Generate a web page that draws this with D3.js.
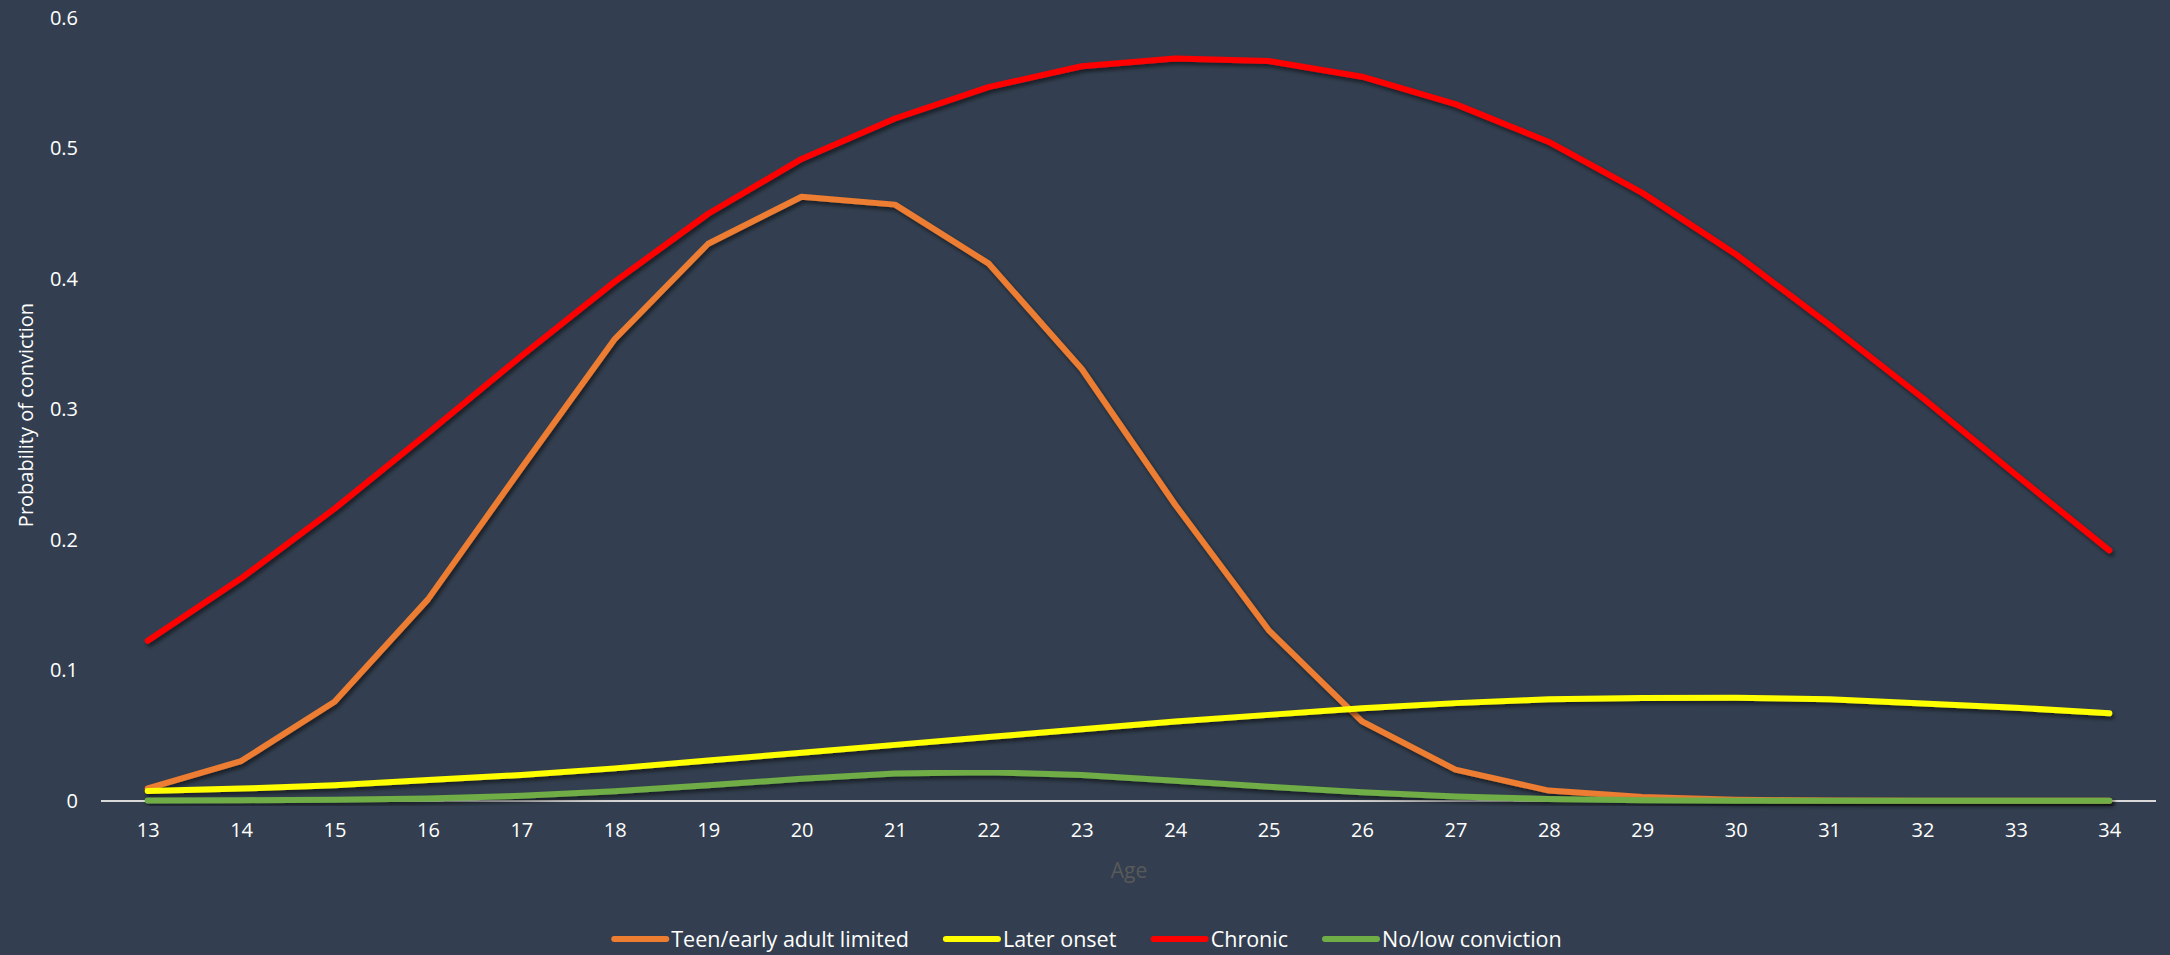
<!DOCTYPE html>
<html>
<head>
<meta charset="utf-8">
<script src="https://cdn.jsdelivr.net/npm/d3@7"></script>
<style>
  html, body { margin: 0; padding: 0; background: #333F50; }
  svg { display: block; }
  text { font-family: "Open Sans", "Noto Sans", sans-serif; }
</style>
</head>
<body>
<svg id="chart" width="2170" height="955"></svg>
<script>
// Ages on the horizontal axis
const ages = [13,14,15,16,17,18,19,20,21,22,23,24,25,26,27,28,29,30,31,32,33,34];

// Probability of conviction by trajectory group
const teenLimited = [0.0097,0.0306,0.076,0.1545,0.255,0.354,0.427,0.463,0.457,0.412,0.331,0.227,0.131,0.061,0.024,0.008,0.003,0.001,0.0003,0.0001,0.0001,0.0001];
const laterOnset  = [0.0077,0.0095,0.012,0.016,0.020,0.025,0.031,0.037,0.043,0.049,0.055,0.061,0.066,0.071,0.075,0.078,0.079,0.0791,0.0779,0.0748,0.0715,0.0672];
const chronic     = [0.1228,0.1706,0.224,0.282,0.341,0.398,0.450,0.492,0.523,0.547,0.563,0.569,0.567,0.555,0.534,0.505,0.466,0.419,0.365,0.309,0.250,0.192];
const noLow       = [0.0003,0.0006,0.001,0.002,0.004,0.0075,0.012,0.017,0.021,0.022,0.020,0.0155,0.011,0.0067,0.0035,0.0015,0.0006,0.0002,0.0001,0.0001,0.0001,0.0001];

const seriesNames  = ["Teen/early adult limited", "Later onset", "Chronic", "No/low conviction"];
const seriesColors = ["#ED7D31", "#FFFF00", "#FF0000", "#70AD47"];
const yTicks = [0, 0.1, 0.2, 0.3, 0.4, 0.5, 0.6];

const series = [teenLimited, laterOnset, chronic, noLow].map((values, i) => ({
  name: seriesNames[i], color: seriesColors[i], values
}));

const svg = d3.select("#chart");
const W = 2170, H = 955;
const plot = { left: 101, right: 2156, top: 18, bottom: 801 };

svg.append("rect").attr("width", W).attr("height", H).attr("fill", "#333F50");

// soft shadow under the series lines
const defs = svg.append("defs");
const f = defs.append("filter").attr("id", "lineShadow")
  .attr("x", "-5%").attr("y", "-5%").attr("width", "110%").attr("height", "120%");
f.append("feDropShadow").attr("dx", 2).attr("dy", 3).attr("stdDeviation", 2)
  .attr("flood-color", "#000").attr("flood-opacity", 0.55);

const x = d3.scalePoint().domain(ages).range([plot.left, plot.right]).padding(0.5);
const y = d3.scaleLinear().domain([0, 0.6]).range([plot.bottom, plot.top]);

// y axis labels (no line, no ticks)
const yAxis = svg.append("g").attr("transform", `translate(${78},0)`)
  .call(d3.axisLeft(y).tickValues(yTicks).tickSize(0).tickPadding(0)
    .tickFormat(d => d === 0 ? "0" : d3.format(".1f")(d)));
yAxis.select(".domain").remove();
yAxis.selectAll("text").attr("fill", "#FFFFFF").attr("font-size", 20)
  .attr("font-family", "'Open Sans', sans-serif");

// x axis labels
const xAxis = svg.append("g").attr("transform", `translate(0,${plot.bottom})`)
  .call(d3.axisBottom(x).tickSize(0).tickPadding(22));
xAxis.select(".domain").remove();
xAxis.selectAll("text").attr("fill", "#FFFFFF").attr("font-size", 20)
  .attr("font-family", "'Open Sans', sans-serif");

// baseline at zero
svg.append("line")
  .attr("x1", plot.left).attr("x2", plot.right)
  .attr("y1", y(0)).attr("y2", y(0))
  .attr("stroke", "#D9D9D9").attr("stroke-width", 2);

// axis titles
svg.append("text")
  .attr("transform", `translate(33,415) rotate(-90)`)
  .attr("text-anchor", "middle")
  .attr("fill", "#FFFFFF").attr("font-size", 20)
  .text("Probability of conviction");

svg.append("text")
  .attr("x", 1129).attr("y", 878)
  .attr("text-anchor", "middle")
  .attr("fill", "#595959").attr("font-size", 21)
  .text("Age");

// series lines
const line = d3.line().x((d, i) => x(ages[i])).y(d => y(d));
svg.append("g").attr("class", "series")
  .selectAll("path").data(series).join("path")
  .attr("d", d => line(d.values))
  .attr("fill", "none")
  .attr("stroke", d => d.color)
  .attr("stroke-width", 6)
  .attr("stroke-linecap", "round")
  .attr("stroke-linejoin", "round")
  .attr("filter", "url(#lineShadow)");

// legend
const legend = svg.append("g").attr("class", "legend");
const items = legend.selectAll("g").data(series).join("g");
items.append("line")
  .attr("x1", 3).attr("x2", 55).attr("y1", 0).attr("y2", 0)
  .attr("stroke", d => d.color).attr("stroke-width", 6)
  .attr("stroke-linecap", "round");
items.append("text")
  .attr("x", 60).attr("y", 7.5)
  .attr("fill", "#FFFFFF").attr("font-size", 21.5)
  .text(d => d.name);

let cursor = 0;
const offsets = [];
items.each(function () {
  offsets.push(cursor);
  cursor += this.getBBox().width + 37;
});
const total = cursor - 37;
const legendStart = 1085 - total / 2;
items.attr("transform", (d, i) => `translate(${legendStart + offsets[i]},939)`);
</script>
</body>
</html>
